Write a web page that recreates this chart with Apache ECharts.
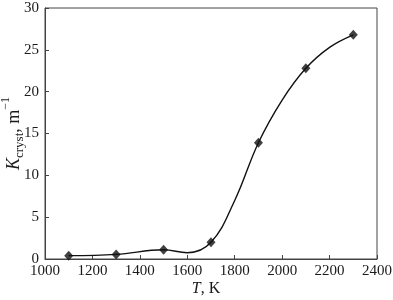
<!DOCTYPE html>
<html>
<head>
<meta charset="utf-8">
<script src="https://cdn.jsdelivr.net/npm/echarts@6/dist/echarts.min.js"></script>
<style>
  html, body { margin: 0; padding: 0; background: #fff; }
  #main { width: 393px; height: 300px; }
</style>
</head>
<body>
<div id="main"></div>
<script>
// measured points (T in K, K_cryst in 1/m)
const temps = [1100, 1300, 1500, 1700, 1900, 2100, 2300];
const kcryst = [0.4, 0.55, 1.1, 2.0, 13.9, 22.8, 26.8];

// fitted curve
const curveT = [1100, 1300, 1500, 1600, 1700, 1800, 1900, 2000, 2100, 2200, 2300];
const curveK = [0.4, 0.55, 1.1, 0.75, 2.0, 7.0, 13.9, 19.0, 22.8, 25.3, 26.8];

const xTicks = [1000, 2400, 200];
const yTicks = [0, 30, 5];

const font = 'Liberation Serif';
const ink = '#1a1a1a';

const chart = echarts.init(document.getElementById('main'));

const axisCommon = {
    axisLine: { show: true, lineStyle: { color: '#444', width: 1 } },
    axisTick: { show: true, inside: true, length: 4, lineStyle: { color: '#444' } },
    axisLabel: { color: ink, fontFamily: font, fontSize: 15, formatter: v => String(v) },
    splitLine: { show: false },
    nameMoveOverlap: false
};

chart.setOption({
    animation: false,
    grid: {
        left: 45, right: 16, top: 8, bottom: 41,
        outerBoundsMode: 'none',
        containLabel: false,
        show: true, borderColor: '#444', borderWidth: 1
    },
    xAxis: Object.assign({}, axisCommon, {
        type: 'value',
        min: xTicks[0], max: xTicks[1], interval: xTicks[2],
        axisLabel: Object.assign({}, axisCommon.axisLabel, { margin: 5 }),
        name: '{i|T}{n|, K}',
        nameLocation: 'middle',
        nameGap: 22,
        nameTextStyle: {
            color: ink,
            padding: [0, 10, 0, 0],
            rich: {
                i: { fontFamily: font, fontSize: 16, fontStyle: 'italic', color: ink },
                n: { fontFamily: font, fontSize: 16, color: ink }
            }
        }
    }),
    yAxis: Object.assign({}, axisCommon, {
        type: 'value',
        min: yTicks[0], max: yTicks[1], interval: yTicks[2],
        axisLabel: Object.assign({}, axisCommon.axisLabel, { margin: 6 }),
        name: '{i|K}{s|cryst}{n|, m}{p|−1}',
        nameLocation: 'middle',
        nameGap: 22,
        nameTextStyle: {
            color: ink,
            rich: {
                i: { fontFamily: font, fontSize: 18, fontStyle: 'italic', color: ink, verticalAlign: 'bottom', lineHeight: 23 },
                s: { fontFamily: font, fontSize: 13, color: ink, verticalAlign: 'bottom', lineHeight: 23, padding: [0, 0, -3, 0] },
                n: { fontFamily: font, fontSize: 18, color: ink, verticalAlign: 'bottom', lineHeight: 23 },
                p: { fontFamily: font, fontSize: 12, color: ink, verticalAlign: 'top', lineHeight: 23 }
            }
        }
    }),
    series: [
        {
            type: 'line',
            data: curveT.map((t, i) => [t, curveK[i]]),
            smooth: 0.4,
            showSymbol: false,
            lineStyle: { color: '#111', width: 1.4 },
            silent: true
        },
        {
            type: 'scatter',
            data: temps.map((t, i) => [t, kcryst[i]]),
            symbol: 'diamond',
            symbolSize: [9, 10],
            itemStyle: { color: '#111' }
        }
    ]
});
</script>
</body>
</html>
